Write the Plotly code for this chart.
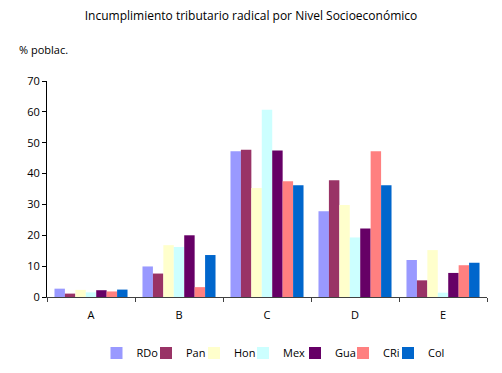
import plotly.graph_objects as go

categories = ["A", "B", "C", "D", "E"]
series_names = ["RDo", "Pan", "Hon", "Mex", "Gua", "CRi", "Col"]
RDo = [2.7, 9.9, 47.2, 27.8, 12.0]
Pan = [1.1, 7.6, 47.7, 37.8, 5.4]
Hon = [2.3, 16.8, 35.3, 29.8, 15.2]
Mex = [1.5, 16.2, 60.7, 19.3, 1.4]
Gua = [2.2, 20.0, 47.5, 22.2, 7.8]
CRi = [1.8, 3.2, 37.5, 47.2, 10.3]
Col = [2.4, 13.6, 36.2, 36.2, 11.1]
series_values = [RDo, Pan, Hon, Mex, Gua, CRi, Col]
colors = ["#9999FF", "#993366", "#FFFFCC", "#CCFFFF", "#660066", "#FF8080", "#0066CC"]
y_ticks = [0, 10, 20, 30, 40, 50, 60, 70]
legend_px = [88.5, 138, 186, 235, 287, 335, 380]

font = "Open Sans, DejaVu Sans, sans-serif"
fig = go.Figure()
legend_layout = {}
for i, (name, vals, c) in enumerate(zip(series_names, series_values, colors)):
    lname = "legend" if i == 0 else f"legend{i+1}"
    fig.add_trace(go.Bar(x=categories, y=vals, name=name, legend=lname,
                         marker=dict(color=c, line=dict(width=0))))
    legend_layout[lname] = dict(orientation="h", x=(legend_px[i] - 39) / 440, xanchor="left",
                                y=-56/216, yanchor="middle", font=dict(size=11, family=font),
                                bgcolor="rgba(0,0,0,0)")

fig.update_layout(
    width=502, height=373,
    margin=dict(l=39, r=23, t=73, b=84, autoexpand=False),
    paper_bgcolor="white", plot_bgcolor="white",
    barmode="group", bargap=0.17, bargroupgap=0,
    font=dict(family=font, size=11, color="black"),
    title=dict(text="Incumplimiento tributario radical por Nivel Socioeconómico",
               x=243/502, xref="container", xanchor="center", y=1 - 8/373, yanchor="middle",
               font=dict(size=12, family=font)),
    showlegend=True,
    xaxis=dict(showline=True, linecolor="#404040", linewidth=1, ticks="outside",
               tickson="boundaries", ticklen=4, tickcolor="#404040", showgrid=False,
               ticklabelstandoff=8),
    yaxis=dict(range=[0, 70], tickvals=y_ticks, showline=True, linecolor="black", linewidth=1,
               ticks="outside", ticklen=4, tickcolor="black", showgrid=False, zeroline=False),
    annotations=[dict(text="% poblac.", xref="paper", yref="paper", x=-30/440, y=1 + 31/216,
                      xanchor="left", yanchor="middle", showarrow=False, font=dict(size=11))],
    **legend_layout,
)
fig.write_html("out.html")
